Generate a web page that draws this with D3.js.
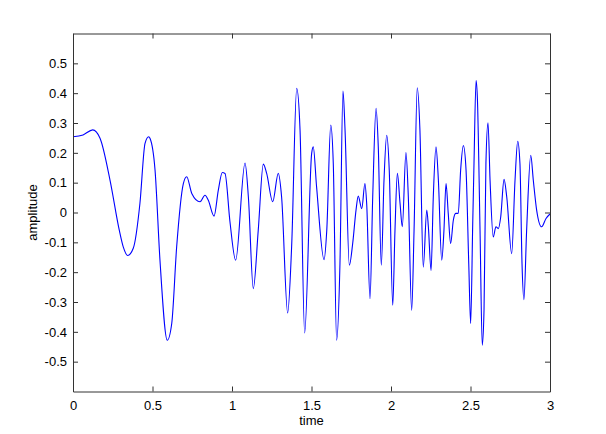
<!DOCTYPE html>
<html>
<head>
<meta charset="utf-8">
<script src="https://cdn.jsdelivr.net/npm/d3@7/dist/d3.min.js"></script>
<style>
  html, body { margin: 0; padding: 0; background: #ffffff; }
  svg { display: block; }
  text { font-family: "Liberation Sans", Arial, sans-serif; fill: #000; }
</style>
</head>
<body>
<svg id="chart" width="606" height="434"></svg>
<script>
// ---- data ----
const time = [0,0.063,0.124,0.170,0.233,0.291,0.316,0.344,0.379,0.421,0.453,0.476,0.484,0.516,0.547,0.593,0.621,0.652,0.694,0.715,0.747,0.799,0.830,0.851,0.887,0.914,0.939,0.956,0.987,1.023,1.082,1.103,1.134,1.165,1.197,1.218,1.256,1.291,1.312,1.350,1.375,1.407,1.428,1.457,1.501,1.511,1.532,1.579,1.596,1.621,1.637,1.658,1.679,1.698,1.711,1.738,1.759,1.780,1.794,1.816,1.836,1.847,1.868,1.885,1.906,1.920,1.939,1.956,1.973,1.989,2.011,2.025,2.040,2.057,2.071,2.094,2.109,2.130,2.145,2.165,2.182,2.203,2.225,2.235,2.252,2.266,2.283,2.298,2.319,2.333,2.346,2.360,2.375,2.392,2.407,2.423,2.438,2.455,2.472,2.489,2.501,2.514,2.522,2.535,2.543,2.560,2.574,2.585,2.597,2.610,2.623,2.643,2.660,2.675,2.690,2.711,2.728,2.759,2.780,2.797,2.811,2.824,2.836,2.853,2.879,2.895,2.916,2.947,2.975,3.0];
const amplitude = [0.254,0.26,0.277,0.249,0.108,-0.059,-0.115,-0.144,-0.12,0.031,0.232,0.254,0.249,0.142,-0.16,-0.428,-0.372,-0.115,0.097,0.12,0.064,0.036,0.058,0.041,-0.012,0.075,0.134,0.131,-0.03,-0.16,0.166,0.052,-0.255,-0.06,0.162,0.131,0.036,0.131,0.052,-0.337,-0.115,0.416,0.276,-0.404,0.198,0.22,0.086,-0.158,-0.06,0.293,0.164,-0.428,-0.171,0.407,0.276,-0.177,-0.104,0.008,0.055,0.013,0.097,0.03,-0.289,0.052,0.349,0.22,-0.177,0.108,0.259,0.142,-0.311,-0.06,0.131,0.03,-0.048,0.201,0.052,-0.328,-0.06,0.418,0.276,-0.183,0.008,-0.048,-0.194,0.052,0.22,0.108,-0.16,-0.06,0.097,-0.003,-0.104,-0.026,-0.003,-0.003,0.142,0.224,0.142,-0.171,-0.372,-0.037,0.164,0.442,0.388,-0.06,-0.445,-0.328,0.164,0.301,0.108,-0.082,-0.048,-0.054,-0.015,0.111,0.052,-0.138,0.108,0.239,0.164,-0.171,-0.292,-0.06,0.192,0.108,0.008,-0.048,-0.02,-0.005];
const xTicks = [0, 0.5, 1, 1.5, 2, 2.5, 3];
const xTickLabels = ["0", "0.5", "1", "1.5", "2", "2.5", "3"];
const yTicks = [-0.5, -0.4, -0.3, -0.2, -0.1, 0, 0.1, 0.2, 0.3, 0.4, 0.5];
const yTickLabels = ["-0.5", "-0.4", "-0.3", "-0.2", "-0.1", "0", "0.1", "0.2", "0.3", "0.4", "0.5"];
const xLabel = "time";
const yLabel = "amplitude";

// ---- layout ----
const L = 73, R = 550, T = 33.5, B = 391.5;
const svg = d3.select("#chart");
const x = d3.scaleLinear().domain([0, 3]).range([L, R]);
const y = d3.scaleLinear().domain([-0.6, 0.6]).range([B, T]);
const tickLen = 5;
const fontSize = 13;

// line
const pts = time.map((t, i) => [t, amplitude[i]]);
const line = d3.line().x(d => x(d[0])).y(d => y(d[1])).curve(d3.curveMonotoneX);
svg.append("path").datum(pts)
  .attr("d", line)
  .attr("fill", "none")
  .attr("stroke", "#0000ff")
  .attr("stroke-width", 1.1)
  .attr("stroke-linejoin", "round");

// axes (MATLAB style: inside ticks, mirrored)
const axB = svg.append("g").attr("transform", `translate(0,${B})`)
  .call(d3.axisBottom(x).tickValues(xTicks).tickFormat((d, i) => xTickLabels[i])
    .tickSizeInner(-tickLen).tickSizeOuter(0).tickPadding(9));
const axT = svg.append("g").attr("transform", `translate(0,${T})`)
  .call(d3.axisTop(x).tickValues(xTicks).tickFormat("")
    .tickSizeInner(-tickLen).tickSizeOuter(0));
const axL = svg.append("g").attr("transform", `translate(${L},0)`)
  .call(d3.axisLeft(y).tickValues(yTicks).tickFormat((d, i) => yTickLabels[i])
    .tickSizeInner(-tickLen).tickSizeOuter(0).tickPadding(6));
const axR = svg.append("g").attr("transform", `translate(${R},0)`)
  .call(d3.axisRight(y).tickValues(yTicks).tickFormat("")
    .tickSizeInner(-tickLen).tickSizeOuter(0));

[axB, axT, axL, axR].forEach(g => {
  g.selectAll("path.domain").attr("stroke", "#333").attr("stroke-width", 1);
  g.selectAll(".tick line").attr("stroke", "#333").attr("stroke-width", 1);
  g.selectAll("text").attr("font-family", '"Liberation Sans", Arial, sans-serif')
    .attr("font-size", fontSize).attr("fill", "#000");
});

// axis labels
svg.append("text").attr("x", (L + R) / 2).attr("y", 425)
  .attr("text-anchor", "middle").attr("font-size", fontSize).text(xLabel);
svg.append("text")
  .attr("transform", `translate(37,${(T + B) / 2}) rotate(-90)`)
  .attr("text-anchor", "middle").attr("font-size", fontSize).text(yLabel);
</script>
</body>
</html>
